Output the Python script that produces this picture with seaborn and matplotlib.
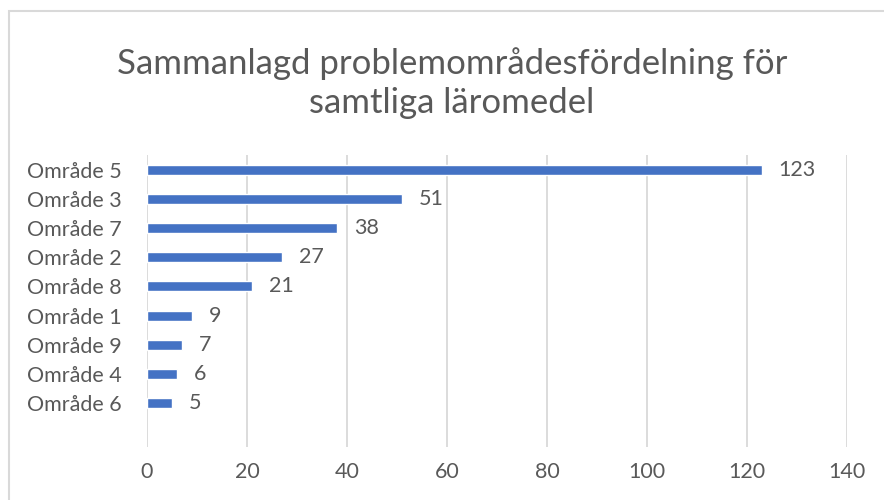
import matplotlib
matplotlib.use("Agg")
import matplotlib.pyplot as plt
import seaborn as sns
import pandas as pd
from matplotlib.patches import Rectangle

# data
categories = ["Område 5", "Område 3", "Område 7", "Område 2", "Område 8",
              "Område 1", "Område 9", "Område 4", "Område 6"]
values = [123, 51, 38, 27, 21, 9, 7, 6, 5]
xticks = [0, 20, 40, 60, 80, 100, 120, 140]
title = "Sammanlagd problemområdesfördelning för\nsamtliga läromedel"

df = pd.DataFrame({"omrade": categories, "antal": values})

sns.set_theme(style="white")
plt.rcParams["font.family"] = ["Lato", "DejaVu Sans"]

text_col = "#595959"
bar_col = "#4472C4"
grid_col = "#D9D9D9"

fig = plt.figure(figsize=(8.84, 5), dpi=100)
ax = fig.add_axes([147 / 884, 53 / 500, 700 / 884, 292 / 500])

sns.barplot(data=df, x="antal", y="omrade", orient="h", color=bar_col,
            width=0.34, saturation=1, ax=ax)

ax.set_xlim(0, 140)
ax.set_ylim(9.5, -0.5)
ax.set_xticks(xticks)
ax.xaxis.grid(True, color=grid_col, linewidth=1.3)
ax.set_axisbelow(True)
for s in ax.spines.values():
    s.set_visible(False)
ax.set_xlabel("")
ax.set_ylabel("")
ax.tick_params(axis="y", length=0, pad=18, labelsize=15.5, labelcolor=text_col)
ax.tick_params(axis="x", length=0, pad=11, labelsize=15.5, labelcolor=text_col)

ax.bar_label(ax.containers[0], padding=12, fontsize=15.5, color=text_col)

fig.text(452 / 884, 1 - 83 / 500, title, ha="center", va="center",
         fontsize=25, color=text_col, linespacing=1.3)

# light frame of the chart area (cut off at right and bottom)
fig.patches.append(Rectangle((9 / 884, -0.1), 1.2, 1 - 11 / 500 + 0.1,
                             transform=fig.transFigure, fill=False,
                             edgecolor=grid_col, linewidth=1.5))

fig.savefig("out.png", dpi=100)
